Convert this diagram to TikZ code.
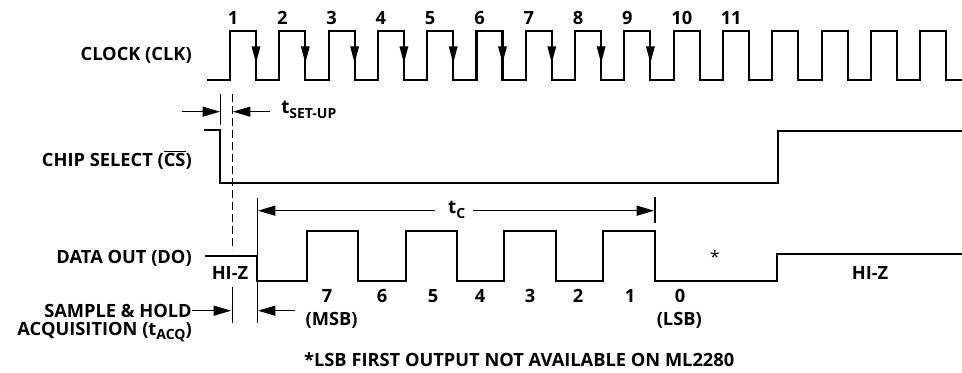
\documentclass[tikz,border=0pt]{standalone}
\usepackage{fontspec}
\setmainfont{Open Sans}
\usetikzlibrary{arrows.meta}
\newcommand\subtx[1]{\raisebox{-0.45ex}{\fontsize{10.5}{11}\selectfont #1}}
\begin{document}
\begin{tikzpicture}[x=0.75pt,y=-0.75pt,
  sig/.style={line width=1.6pt, line join=miter},
  thinl/.style={line width=0.8pt},
  arr/.style={thinl,-{Triangle[length=13pt,width=7.5pt]}},
  carr/.style={thinl,-{Triangle[length=12.5pt,width=6.5pt]}},
  dashl/.style={thinl,dash pattern=on 6pt off 3pt},
  lbl/.style={font=\fontsize{13.7}{15}\selectfont\bfseries, inner sep=0pt},
  num/.style={font=\fontsize{13.7}{15}\selectfont\bfseries, inner sep=0pt},
  star/.style={font=\fontsize{13}{14}\selectfont, inner sep=0pt}]
\useasboundingbox (0,0) rectangle (962,373);
% ---- labels on the left
\node[lbl, anchor=east] (lclk) at (192,55) {CLOCK (CLK)};
\node[lbl, anchor=east] (lcs) at (192,160) {CHIP SELECT ($\overline{\mbox{CS}}$)};
\node[lbl, anchor=east] (ldo) at (192,258) {DATA OUT (DO)};
\node[lbl, anchor=east] (lsh) at (192,311) {SAMPLE \& HOLD};
\node[lbl, anchor=east] (lacq) at (192,332) {ACQUISITION (t\subtx{ACQ})};
% ---- clock arrows
\foreach \k in {0,...,8}
  \draw[carr] ({256+49.3*\k},31) -- ({256+49.3*\k},63);
% ---- clock waveform
\draw[sig] (207,80) \foreach \k in {0,...,14} {
   -- ({230+49.3*\k},80) -- ({230+49.3*\k},30.7) -- ({256+49.3*\k},30.7) -- ({256+49.3*\k},80) } -- (962,80);
% ---- clock numbers
\foreach \k in {1,...,11}
  \node[num, anchor=west] (n\k) at ({230+49.3*(\k-1)-2.5},18) {\k};
% ---- chip select
\draw[sig] (204,130) -- (220,130) -- (220,182.7) -- (777.7,182.7) -- (777.7,131) -- (962,131);
% ---- data out
\draw[sig] (205,256) -- (257,256) -- (257,281) -- (307,281) -- (307,230.7) -- (358,230.7) -- (358,281)
  -- (406,281) -- (406,230.7) -- (457,230.7) -- (457,281) -- (504,281) -- (504,230.7) -- (556,230.7)
  -- (556,281) -- (603,281) -- (603,230.7) -- (655,230.7) -- (655,281) -- (777,281) -- (777,254) -- (962,254);
% ---- markers
\coordinate (s1) at (220.7,94);
\coordinate (s1b) at (220.7,125);
\coordinate (s2) at (232.3,94);
\coordinate (s2b) at (232.3,250);
\coordinate (a1) at (232.5,287);
\coordinate (a1b) at (232.5,323);
\coordinate (c1) at (257.3,198);
\coordinate (c1b) at (257.3,323);
\coordinate (c2) at (655,197);
\coordinate (c2b) at (655,223);
\draw[thinl] (s1) -- (s1b);
\draw[dashl] (s2) -- (s2b);
\draw[thinl] (a1) -- (a1b);
\draw[thinl] (c1) -- (c1b);
\draw[thinl] (c2) -- (c2b);
% set-up arrows
\coordinate (su1) at (182,111.7);
\coordinate (su1t) at (220,111.7);
\coordinate (su2) at (270,111.7);
\coordinate (su2t) at (233,111.7);
\draw[arr] (su1) -- (su1t);
\draw[arr] (su2) -- (su2t);
\node[lbl, anchor=west, font=\fontsize{14}{15}\selectfont\bfseries] (tsu) at (281,110) {t\subtx{SET-UP}};
% tC arrows
\node[lbl, font=\fontsize{14}{15}\selectfont\bfseries] (tc) at (456.7,210) {t\subtx{C}};
\coordinate (tcl) at (258,210.7);
\coordinate (tcr) at (654,210.7);
\draw[arr] (tc.west) ++(-13,0.7) -- (tcl);
\draw[arr] (tc.east) ++(8,0.7) -- (tcr);
% acquisition arrows
\coordinate (aq1t) at (231,310.7);
\coordinate (aq2) at (295,310.7);
\coordinate (aq2t) at (258,310.7);
\draw[arr] (lsh.east |- aq1t) -- (aq1t);
\draw[arr] (aq2) -- (aq2t);
% ---- HI-Z and star
\node[lbl] (hz1) at (230,273) {HI-Z};
\node[lbl] (hz2) at (870,273) {HI-Z};
\node[star] (st) at (715,257) {*};
% ---- bit labels
\foreach \b/\x in {7/327,6/382,5/433,4/480,3/530,2/578,1/630,0/680}
  \node[num] (b\b) at (\x,296) {\b};
\node[lbl] (msb) at (331.7,320) {(MSB)};
\node[lbl] (lsb) at (679.3,320) {(LSB)};
\node[lbl] (foot) at (519.2,360) {*LSB FIRST OUTPUT NOT AVAILABLE ON ML2280};
\end{tikzpicture}
\end{document}
